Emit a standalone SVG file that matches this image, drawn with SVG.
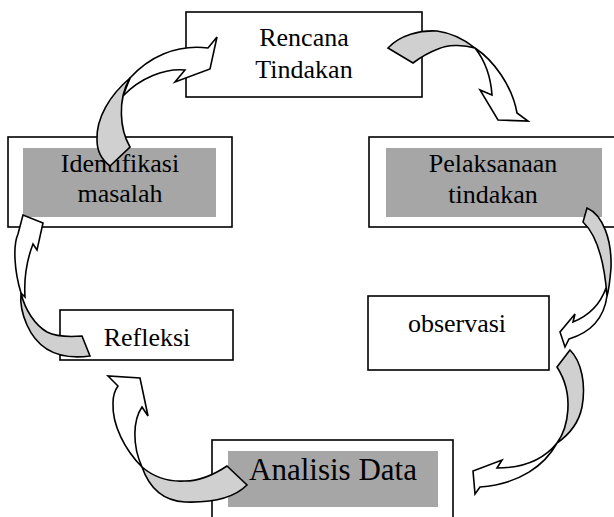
<svg xmlns="http://www.w3.org/2000/svg" width="614" height="517" viewBox="0 0 614 517">
<style>
.box{fill:#fff;stroke:#000;stroke-width:1.6}
.shade{fill:#a6a6a6}
.t{font-family:"Liberation Serif","Times New Roman",serif;font-size:26px;fill:#000;text-anchor:middle}
.back{fill:#d0d0d0;stroke:#000;stroke-width:1.6;stroke-linejoin:miter}
.front{fill:#fff;stroke:#000;stroke-width:1.6;stroke-linejoin:miter}
</style>
<rect width="614" height="517" fill="#fff"/>
<g id="rencana">
<rect class="box" x="186" y="12" width="236" height="85"/>
<text class="t" x="304" y="46">Rencana</text>
<text class="t" x="304" y="78">Tindakan</text>
</g>
<g id="identifikasi">
<rect class="box" x="8" y="137" width="224" height="90"/>
<rect class="shade" x="23" y="148" width="193" height="69"/>
<text class="t" x="120" y="172">Identifikasi</text>
<text class="t" x="120" y="202">masalah</text>
</g>
<g id="pelaksanaan">
<rect class="box" x="369" y="137" width="260" height="90"/>
<rect class="shade" x="386" y="148" width="216" height="69"/>
<text class="t" x="493" y="172">Pelaksanaan</text>
<text class="t" x="493" y="203">tindakan</text>
</g>
<g id="refleksi">
<rect class="box" x="60" y="310" width="173" height="50"/>
<text class="t" x="147" y="346">Refleksi</text>
</g>
<g id="observasi">
<rect class="box" x="368" y="296" width="181" height="74"/>
<text class="t" x="457" y="332">observasi</text>
</g>
<g id="analisis">
<rect class="box" x="212" y="440" width="241" height="90"/>
<rect class="shade" x="228" y="451" width="210" height="56"/>
<text class="t" x="333" y="480" style="font-size:31px">Analisis Data</text>
</g>
<g id="connectors">
<g id="arrow-identifikasi-rencana">
<path class="front" d="M130,78 C148,58 175,44 208,48 L217,37 L210,69 L175,82 L185,70 C165,68 140,78 123,96 Z"/>
<path class="back" d="M130,78 C110,95 96,118 97,140 C97,152 102,160 110,166 L130,147 C120,130 117,100 130,78 Z"/>
</g>
<g id="arrow-rencana-pelaksanaan">
<path class="back" d="M388,48 C400,35 420,30 437,31 C452,33 465,40 475,48 C462,44 447,45 438,49 C430,52 421,57 413,63 Z"/>
<path class="front" d="M475,48 C493,60 512,85 517,113 L528,121 L498,120 L480,90 L492,95 C491,80 486,62 475,48 Z"/>
</g>
<g id="arrow-pelaksanaan-observasi">
<path class="back" d="M583,222 L587,208 C603,215 612,240 611,268 C610,280 609,290 607,296 C605,270 600,238 583,222 Z"/>
<path class="front" d="M607,296 C604,318 592,332 569,339 L565,347 L560,332 L575,314 L573,322 C588,316 600,305 606,288 Z"/>
</g>
<g id="arrow-observasi-analisis">
<path class="back" d="M557,367 L570,350 C582,362 586,385 582,407 C579,422 570,434 557,443 C568,428 575,395 557,367 Z"/>
<path class="front" d="M557,443 C545,465 520,484 480,487 L475,494 L473,471 L502,460 L497,468 C525,468 545,458 557,443 Z"/>
</g>
<g id="arrow-analisis-refleksi">
<path class="back" d="M227,466 L247,485 C235,497 215,503 185,502 C165,501 150,490 142,467 C155,478 170,482 185,481 C200,481 215,474 227,466 Z"/>
<path class="front" d="M142,467 C125,450 112,425 113,403 C113,395 115,390 118,386 L108,376 L140,378 L148,416 L142,407 C133,420 132,445 142,467 Z"/>
</g>
<g id="arrow-refleksi-identifikasi">
<path class="back" d="M82,336 L90,356 C60,360 38,350 27,325 C22,314 20,303 21,293 C25,310 35,325 47,332 C57,337 70,337 82,336 Z"/>
<path class="front" d="M21,293 C14,270 13,245 18,234 L23,215 L43,223 L37,250 L33,244 C26,262 24,280 25,297 Z"/>
</g>
</g>
</svg>
